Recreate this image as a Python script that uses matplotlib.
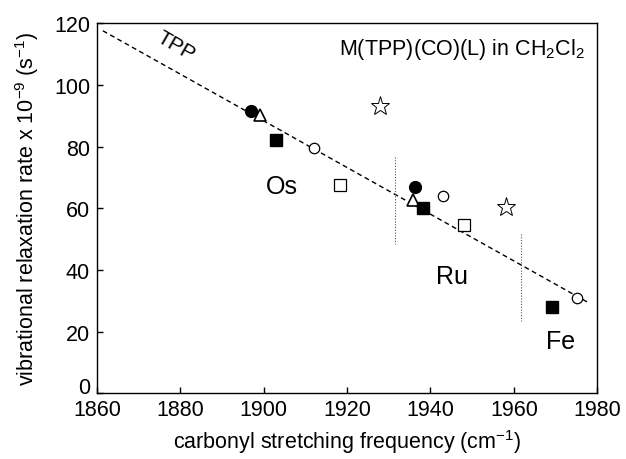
import matplotlib
matplotlib.use("Agg")
import matplotlib.pyplot as plt

plt.rcParams['font.family'] = ['Liberation Sans', 'DejaVu Sans']

# Data
fc_x = [1897.0, 1936.2]
fc_y = [91.7, 67.0]
ot_x = [1899.2, 1935.8]
ot_y = [90.3, 62.7]
fs_x = [1903.0, 1938.2, 1969.1]
fs_y = [82.2, 60.1, 27.9]
oc_x = [1912.0, 1943.0, 1975.1]
oc_y = [79.5, 64.1, 30.8]
os_x = [1918.4, 1948.0]
os_y = [67.6, 54.7]
st_x = [1927.8, 1958.0]
st_y = [93.2, 60.3]

fit_x = [1861.4, 1978.0]
fit_y = [117.6, 29.3]

div1_x = [1931.4, 1931.4]
div1_y = [76.5, 48.4]
div2_x = [1961.7, 1961.7]
div2_y = [51.7, 23.5]

xticks = [1860, 1880, 1900, 1920, 1940, 1960, 1980]
yticks = [0, 20, 40, 60, 80, 100, 120]

fig = plt.figure(figsize=(6.26, 4.6), dpi=100)
ax = fig.add_axes([0.155, 0.143, 0.799, 0.804])

ax.plot(fit_x, fit_y, ls=(0, (3.5, 2.5)), color='black', lw=1.0)
ax.plot(div1_x, div1_y, ls=(0, (1, 1.5)), color='#555555', lw=0.8)
ax.plot(div2_x, div2_y, ls=(0, (1, 1.5)), color='#555555', lw=0.8)

ax.plot(fc_x, fc_y, 'o', ms=8.5, mfc='black', mec='black', ls='none')
ax.plot(ot_x, ot_y, '^', ms=9, mfc='white', mec='black', mew=1.2, ls='none')
ax.plot(fs_x, fs_y, 's', ms=8, mfc='black', mec='black', ls='none')
ax.plot(oc_x, oc_y, 'o', ms=7.5, mfc='white', mec='black', mew=0.9, ls='none')
ax.plot(os_x, os_y, 's', ms=8, mfc='white', mec='black', mew=0.9, ls='none')
ax.plot(st_x, st_y, '*', ms=14, mfc='white', mec='black', mew=0.7, ls='none')

ax.set_xlim(1860, 1980)
ax.set_ylim(0, 120)
ax.set_xticks(xticks)
ax.set_yticks(yticks)
ax.tick_params(direction='in', length=4, width=1, labelsize=15.5, top=False, right=False)
ax.tick_params(axis='y', pad=5)
ax.tick_params(axis='x', pad=4)
for s in ax.spines.values():
    s.set_linewidth(1.0)

# the "0" label sits slightly above its tick, as in the reference
ax.yaxis.get_major_ticks()[0].label1.set_verticalalignment('baseline')

ax.set_xlabel('carbonyl stretching frequency (cm$^{\\mathregular{-1}}$)', fontsize=15.5, labelpad=5)
ax.set_ylabel('vibrational relaxation rate x 10$^{\\mathregular{-9}}$ (s$^{\\mathregular{-1}}$)', fontsize=15.5, labelpad=9)

ax.text(1878.9, 112.8, 'TPP', fontsize=15, rotation=-30, ha='center', va='center')
ax.text(1904.3, 67.3, 'Os', fontsize=18, ha='center', va='center')
ax.text(1945.2, 38.1, 'Ru', fontsize=18, ha='center', va='center')
ax.text(1971.2, 17.1, 'Fe', fontsize=18, ha='center', va='center')
ax.text(1977, 111.7, 'M(TPP)(CO)(L) in CH$_{\\mathregular{2}}$Cl$_{\\mathregular{2}}$', fontsize=15.5, ha='right', va='center')

fig.savefig('out.png', dpi=100)
